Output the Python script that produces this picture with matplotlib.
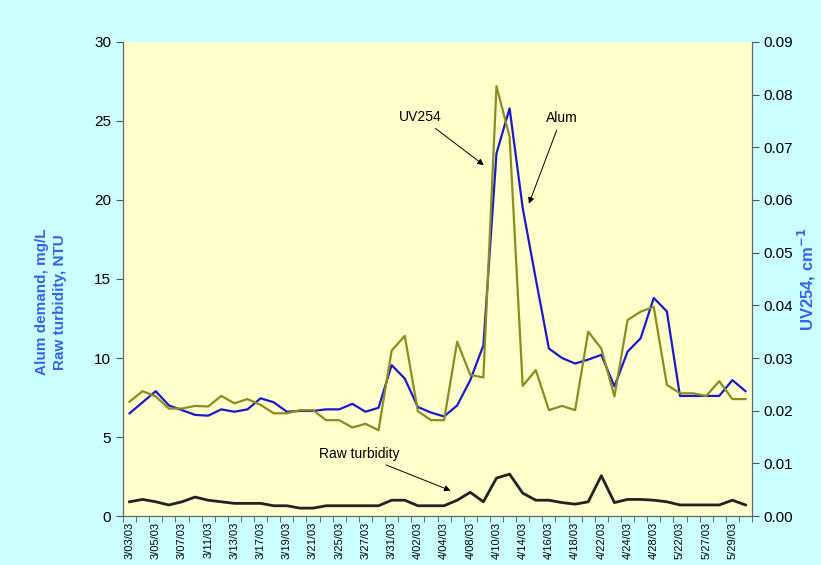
import matplotlib
matplotlib.use("Agg")
import matplotlib.pyplot as plt
import numpy as np

plt.rcParams['font.family'] = ['Liberation Sans', 'DejaVu Sans']

# tick labels shown on every second sample
date_labels = ['3/03/03', '3/05/03', '3/07/03', '3/11/03', '3/13/03', '3/17/03',
               '3/19/03', '3/21/03', '3/25/03', '3/27/03', '3/31/03', '4/02/03',
               '4/04/03', '4/08/03', '4/10/03', '4/14/03', '4/16/03', '4/18/03',
               '4/22/03', '4/24/03', '4/28/03', '5/22/03', '5/27/03', '5/29/03']

alum = [6.5, 7.2, 7.9, 7.0, 6.7, 6.4, 6.35, 6.75, 6.6, 6.75, 7.45, 7.2,
        6.6, 6.65, 6.65, 6.75, 6.75, 7.1, 6.6, 6.85, 9.55, 8.7, 6.9, 6.55,
        6.3, 7.0, 8.6, 10.8, 22.95, 25.8, 19.5, 15.0, 10.6, 10.0, 9.65, 9.9,
        10.2, 8.2, 10.4, 11.25, 13.8, 12.95, 7.6, 7.6, 7.6, 7.6, 8.6, 7.9]

uv254 = [0.0217, 0.0237, 0.0227, 0.0204, 0.0204, 0.0209, 0.0208, 0.0228,
         0.0214, 0.0222, 0.0211, 0.0195, 0.0195, 0.0201, 0.0201, 0.0182,
         0.0182, 0.0168, 0.0175, 0.0163, 0.0314, 0.0342, 0.0199, 0.0182,
         0.0182, 0.0331, 0.0268, 0.0263, 0.0816, 0.0720, 0.0247, 0.0277,
         0.0201, 0.0209, 0.0201, 0.0350, 0.0318, 0.0227, 0.0372, 0.0388,
         0.0397, 0.0249, 0.0233, 0.0233, 0.0228, 0.0256, 0.0222, 0.0222]

turbidity = [0.9, 1.05, 0.9, 0.7, 0.9, 1.2, 1.0, 0.9, 0.8, 0.8, 0.8, 0.65,
             0.65, 0.5, 0.5, 0.65, 0.65, 0.65, 0.65, 0.65, 1.0, 1.0, 0.65, 0.65,
             0.65, 1.0, 1.5, 0.9, 2.4, 2.65, 1.45, 1.0, 1.0, 0.85, 0.75, 0.9,
             2.55, 0.85, 1.05, 1.05, 1.0, 0.9, 0.7, 0.7, 0.7, 0.7, 1.0, 0.7]

x = np.arange(len(alum))
label_color = '#3366ee'

fig = plt.figure(figsize=(8.21, 5.65), dpi=100, facecolor='#ccffff')
ax = fig.add_axes([0.1498, 0.0867, 0.7662, 0.839])
ax.set_facecolor('#ffffcc')
ax2 = ax.twinx()

ax.plot(x, alum, color='#1a1acc', lw=1.6, zorder=3)
ax.plot(x, turbidity, color='#222222', lw=2.0, zorder=3)
ax2.plot(x, uv254, color='#8c8c22', lw=1.6)

ax.set_xlim(-0.5, len(x) - 0.5)
ax.set_ylim(0, 30)
ax2.set_ylim(0, 0.09)

ax.set_yticks(np.arange(0, 31, 5))
ax2.set_yticks(np.arange(0, 0.091, 0.01))
ax2.set_yticklabels(['%.2f' % v for v in np.arange(0, 0.091, 0.01)])

ax.set_xticks(x[::2])
ax.set_xticklabels(date_labels, rotation=90, fontsize=8)
ax.set_xticks(np.arange(-0.5, len(x), 1), minor=True)
ax.tick_params(axis='x', which='major', length=0, pad=4)
ax.tick_params(axis='x', which='minor', length=4, color='#555555')

ax.tick_params(axis='y', labelsize=11, length=5, color='#555555')
ax2.tick_params(axis='y', labelsize=11, length=5, color='#555555')

for a in (ax, ax2):
    a.spines['top'].set_visible(False)
    for s in ('left', 'right', 'bottom'):
        a.spines[s].set_color('#666666')

# left axis title sits a little below the axes centre in the original
fig.text(0.062, 0.466, 'Alum demand, mg/L\nRaw turbidity, NTU', color=label_color,
         fontsize=11, fontweight='bold', rotation=90, ha='center', va='center',
         linespacing=1.4)
ax2.set_ylabel('UV254, cm$^{\\mathbf{-1}}$', color=label_color,
               fontsize=12, fontweight='bold', labelpad=2)

arrow = dict(arrowstyle='-|>', color='black', lw=0.7, mutation_scale=9)
ax.annotate('UV254', xy=(27.2, 22.1), xytext=(22.2, 25.25), fontsize=10,
            ha='center', va='center', arrowprops=arrow)
ax.annotate('Alum', xy=(30.4, 19.6), xytext=(32.95, 25.2), fontsize=10,
            ha='center', va='center', arrowprops=arrow)
ax.annotate('Raw turbidity', xy=(24.7, 1.54), xytext=(17.5, 3.92), fontsize=10,
            ha='center', va='center', arrowprops=arrow)

fig.savefig('out.png', dpi=100, facecolor=fig.get_facecolor())
